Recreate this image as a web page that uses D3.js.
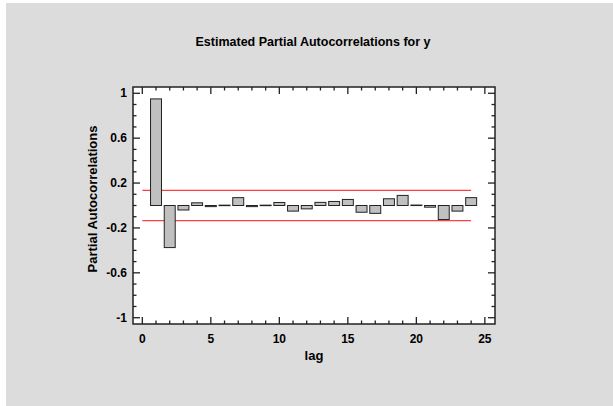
<!DOCTYPE html>
<meta charset="utf-8">
<style>
  body { margin: 0; background: #fff; }
  text { font-family: Arial, "Liberation Sans", sans-serif; font-weight: bold; fill: #000; }
  .bar { fill: #c0c0c0; stroke: #222; stroke-width: 1; }
  .limit { stroke: #ff4040; stroke-width: 1.3; }
</style>
<body>
  <svg width="613" height="406"></svg>
  <script src="https://cdn.jsdelivr.net/npm/d3@7"></script>
  <script>
    // partial autocorrelations by lag
    const lags = d3.range(1, 25);
    const pacf = [0.95, -0.375, -0.04, 0.024, -0.01, 0.003, 0.07, -0.01, 0.003, 0.027, -0.05, -0.03,
                  0.028, 0.036, 0.054, -0.06, -0.07, 0.06, 0.09, 0.004, -0.015, -0.125, -0.05, 0.07];
    const limit = 0.135;
    const xTicks = [0, 5, 10, 15, 20, 25];
    const yTicks = [-1, -0.6, -0.2, 0.2, 0.6, 1];

    const svg = d3.select("svg");
    svg.append("rect").attr("x", 6).attr("y", 3).attr("width", 607).attr("height", 403).attr("fill", "#dcdcdc");

    const margin = {left: 133, top: 87, right: 495, bottom: 324};
    const x = d3.scaleLinear().domain([-0.68, 25.74]).range([margin.left, margin.right]);
    const y = d3.scaleLinear().domain([-1.056, 1.056]).range([margin.bottom, margin.top]);

    svg.append("rect")
        .attr("x", margin.left).attr("y", margin.top)
        .attr("width", margin.right - margin.left).attr("height", margin.bottom - margin.top)
        .attr("fill", "#fff");

    // limit lines
    svg.selectAll(".limit")
      .data([limit, -limit])
      .enter().append("line")
        .attr("class", "limit")
        .attr("x1", x(0)).attr("x2", x(24))
        .attr("y1", d => y(d)).attr("y2", d => y(d));

    const bw = x(0.8) - x(0);
    svg.selectAll(".bar")
      .data(lags)
      .enter().append("rect")
        .attr("class", "bar")
        .attr("x", d => x(d) - bw / 2)
        .attr("width", bw)
        .attr("y", (d, i) => y(Math.max(0, pacf[i])))
        .attr("height", (d, i) => Math.max(0.5, Math.abs(y(pacf[i]) - y(0))));

    // ticks, all pointing inward
    const minorX = d3.range(0, 26);
    const minorY = d3.range(-10, 11).map(v => v / 10);
    const isMajorX = v => v % 5 === 0;
    const isMajorY = v => yTicks.some(t => Math.abs(t - v) < 1e-9);
    const tk = svg.append("g").attr("stroke", "#222").attr("stroke-width", 1.3);

    minorX.forEach(v => {
      const len = isMajorX(v) ? 7 : 3.5;
      tk.append("line").attr("x1", x(v)).attr("x2", x(v)).attr("y1", margin.bottom).attr("y2", margin.bottom - len);
      tk.append("line").attr("x1", x(v)).attr("x2", x(v)).attr("y1", margin.top).attr("y2", margin.top + len);
    });
    minorY.forEach(v => {
      const len = isMajorY(v) ? 7 : 3.5;
      tk.append("line").attr("y1", y(v)).attr("y2", y(v)).attr("x1", margin.left).attr("x2", margin.left + len);
      tk.append("line").attr("y1", y(v)).attr("y2", y(v)).attr("x1", margin.right).attr("x2", margin.right - len);
    });

    svg.append("rect")
        .attr("x", margin.left).attr("y", margin.top)
        .attr("width", margin.right - margin.left).attr("height", margin.bottom - margin.top)
        .attr("fill", "none").attr("stroke", "#222").attr("stroke-width", 1.5);

    // tick labels
    svg.selectAll(".xlab")
      .data(xTicks)
      .enter().append("text")
        .attr("x", d => x(d)).attr("y", 343)
        .attr("text-anchor", "middle").attr("font-size", 12)
        .text(d => d);

    svg.selectAll(".ylab")
      .data(yTicks)
      .enter().append("text")
        .attr("x", 127).attr("y", d => y(d)).attr("dy", "0.35em")
        .attr("text-anchor", "end").attr("font-size", 12)
        .text(d => String(d));

    svg.append("text")
        .attr("x", 313).attr("y", 46)
        .attr("text-anchor", "middle").attr("font-size", 12.5)
        .text("Estimated Partial Autocorrelations for y");

    svg.append("text")
        .attr("x", (margin.left + margin.right) / 2).attr("y", 360)
        .attr("text-anchor", "middle").attr("font-size", 13)
        .text("lag");

    svg.append("text")
        .attr("transform", `translate(97,199) rotate(-90)`)
        .attr("text-anchor", "middle").attr("font-size", 13)
        .text("Partial Autocorrelations");
  </script>
</body>
</html>
